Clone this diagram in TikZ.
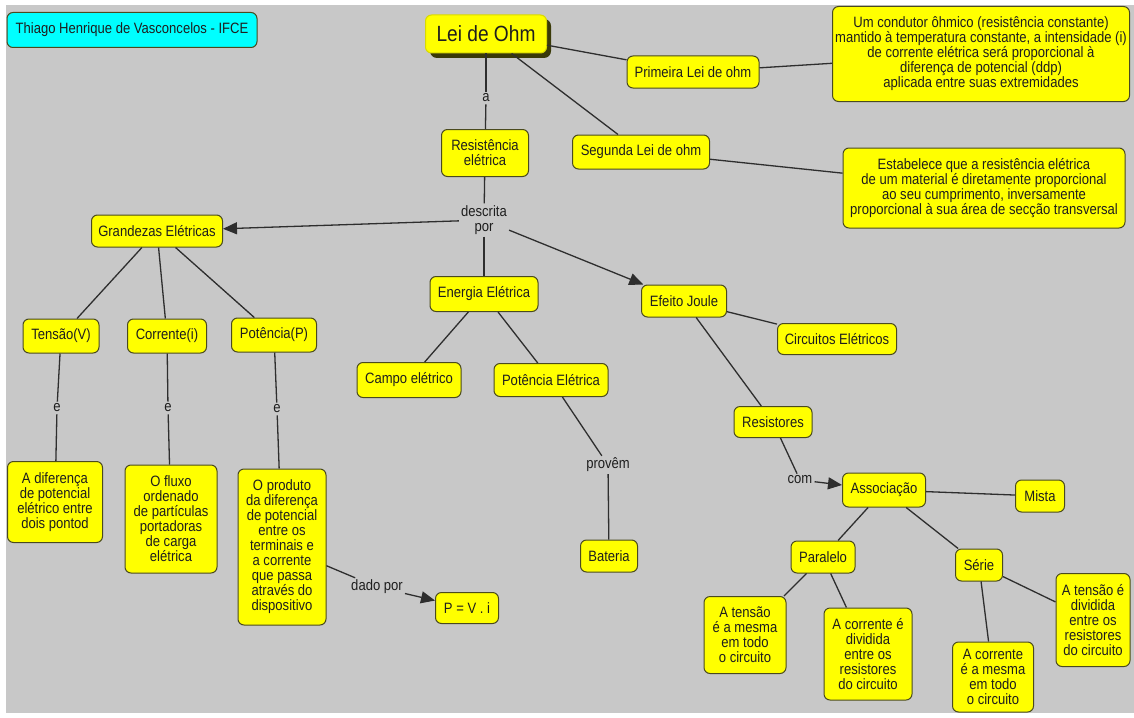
\documentclass[tikz,border=0pt]{standalone}
\usepackage{fontspec}
\setmainfont{Liberation Sans}[FakeStretch=0.87]
\usetikzlibrary{arrows.meta}
\definecolor{bg}{HTML}{C8C8C8}
\definecolor{boxy}{HTML}{FFFF00}
\definecolor{boxc}{HTML}{00FFFF}
\definecolor{bordc}{HTML}{4A4A1E}
\definecolor{txtc}{HTML}{1E1E1E}
\definecolor{linec}{HTML}{2E2E2E}
\definecolor{shadc}{HTML}{3A3A08}
\tikzset{
  concept/.style={draw=bordc, fill=boxy, rounded corners=6pt, line width=1pt,
    font=\fontsize{15}{15}\selectfont, text=txtc, align=center, inner xsep=3pt, inner ysep=3pt},
  lbl/.style={font=\fontsize{15}{15}\selectfont, text=txtc, align=center, inner sep=2pt},
  conn/.style={draw=linec, line width=1.3pt},
  arr/.style={conn, -{Triangle[length=14pt,width=12pt]}},
}
\begin{document}
\begin{tikzpicture}[x=1pt,y=-1pt]
\useasboundingbox (0,0) rectangle (1134,717);
\fill[white] (0,0) rectangle (1134,717);
\fill[bg] (6,5) rectangle (1134,713);

% title / author
\node[concept, fill=boxc, minimum width=250pt, minimum height=35pt] (author) at (132,30) {Thiago Henrique de Vasconcelos - IFCE};

% main concept with shadow
\fill[shadc, rounded corners=7pt] (430,19) rectangle (551,58);
\node[concept, draw=boxy!70!olive, minimum width=121pt, minimum height=38pt, font=\fontsize{22}{24}\selectfont] (ohm) at (486,34) {Lei de Ohm};

\node[concept, minimum width=132pt, minimum height=32pt] (prim) at (693,72) {Primeira Lei de ohm};
\node[concept, minimum width=297pt, minimum height=95pt, inner xsep=0pt] (cond) at (981,54) {Um condutor ôhmico (resistência constante)\\mantido à temperatura constante, a intensidade (i)\\de corrente elétrica será proporcional à\\diferença de potencial (ddp)\\aplicada entre suas extremidades};
\node[concept, minimum width=87pt, minimum height=47pt] (resist) at (485,153) {Resistência\\elétrica};
\node[concept, minimum width=137pt, minimum height=34pt] (seg) at (641,152) {Segunda Lei de ohm};
\node[concept, minimum width=282pt, minimum height=80pt] (estab) at (984,188) {Estabelece que a resistência elétrica\\de um material é diretamente proporcional\\ao seu cumprimento, inversamente\\proporcional à sua área de secção transversal};

\node[lbl] (la) at (486,98) {a};
\node[lbl] (descr) at (484,220) {descrita\\por};

\node[concept, minimum width=131pt, minimum height=32pt] (grand) at (157,231) {Grandezas Elétricas};
\node[concept, minimum width=108pt, minimum height=35pt] (energ) at (484,294) {Energia Elétrica};
\node[concept, minimum width=85pt, minimum height=32pt] (joule) at (684,301) {Efeito Joule};
\node[concept, minimum width=119pt, minimum height=31pt] (circ) at (837,339) {Circuitos Elétricos};

\node[concept, minimum width=76pt, minimum height=34pt] (tensao) at (61,336) {Tensão(V)};
\node[concept, minimum width=79pt, minimum height=34pt] (corr) at (167,336) {Corrente(i)};
\node[concept, minimum width=85pt, minimum height=34pt] (pot) at (274,335) {Potência(P)};

\node[concept, minimum width=104pt, minimum height=35pt] (campo) at (409,380) {Campo elétrico};
\node[concept, minimum width=114pt, minimum height=33pt] (potel) at (551,380) {Potência Elétrica};
\node[lbl] (provem) at (608,465) {provêm};
\node[concept, minimum width=57pt, minimum height=32pt] (bat) at (609,556) {Bateria};

\node[concept, minimum width=78pt, minimum height=31pt] (resistores) at (773,422) {Resistores};
\node[lbl] (com) at (800,480) {com};
\node[concept, minimum width=83pt, minimum height=34pt] (assoc) at (884,490) {Associação};
\node[concept, minimum width=49pt, minimum height=32pt] (mista) at (1040,496) {Mista};
\node[concept, minimum width=64pt, minimum height=32pt] (paral) at (823,557) {Paralelo};
\node[concept, minimum width=47pt, minimum height=32pt] (serie) at (979,565) {Série};

\node[concept, minimum width=82pt, minimum height=77pt] (ptens) at (745,635) {A tensão\\é a mesma\\em todo\\o circuito};
\node[concept, minimum width=88pt, minimum height=92pt] (pcorr) at (868,654) {A corrente é\\dividida\\entre os\\resistores\\do circuito};
\node[concept, minimum width=81pt, minimum height=70pt] (scorr) at (993,677) {A corrente\\é a mesma\\em todo\\o circuito};
\node[concept, minimum width=74pt, minimum height=93pt] (stens) at (1093,620) {A tensão é\\dividida\\entre os\\resistores\\do circuito};

\node[lbl] (e1) at (57,408) {e};
\node[lbl] (e2) at (168,408) {e};
\node[lbl] (e3) at (277,409) {e};

\node[concept, minimum width=95pt, minimum height=81pt] (dif) at (55,502) {A diferença\\de potencial\\elétrico entre\\dois pontod};
\node[concept, minimum width=92pt, minimum height=108pt] (fluxo) at (171,519) {O fluxo\\ordenado\\de partículas\\portadoras\\de carga\\elétrica};
\node[concept, minimum width=88pt, minimum height=156pt] (prod) at (282,547) {O produto\\da diferença\\de potencial\\entre os\\terminais e\\a corrente\\que passa\\através do\\dispositivo};
\node[lbl] (dado) at (377,587) {dado por};
\node[concept, minimum width=63pt, minimum height=31pt] (pvi) at (467,608) {P = V . i};

% connectors
\draw[conn] (ohm) -- (la);
\draw[conn] (la) -- (resist);
\draw[conn] (ohm) -- (prim);
\draw[conn] (prim) -- (cond);
\draw[conn] (ohm) -- (seg);
\draw[conn] (seg) -- (estab);
\draw[conn] (resist) -- (descr);
\draw[arr] (descr) -- (grand);
\draw[conn] (descr) -- (energ);
\draw[arr] (descr) -- (joule);
\draw[conn] (grand) -- (tensao);
\draw[conn] (grand) -- (corr);
\draw[conn] (grand) -- (pot);
\draw[conn] (tensao) -- (e1);
\draw[conn] (e1) -- (dif);
\draw[conn] (corr) -- (e2);
\draw[conn] (e2) -- (fluxo);
\draw[conn] (pot) -- (e3);
\draw[conn] (e3) -- (prod);
\draw[conn] (prod) -- (dado);
\draw[arr] (dado) -- (pvi);
\draw[conn] (energ) -- (campo);
\draw[conn] (energ) -- (potel);
\draw[conn] (potel) -- (provem);
\draw[conn] (provem) -- (bat);
\draw[conn] (joule) -- (circ);
\draw[conn] (joule) -- (resistores);
\draw[conn] (resistores) -- (com);
\draw[arr] (com) -- (assoc);
\draw[conn] (assoc) -- (mista);
\draw[conn] (assoc) -- (paral);
\draw[conn] (assoc) -- (serie);
\draw[conn] (paral) -- (ptens);
\draw[conn] (paral) -- (pcorr);
\draw[conn] (serie) -- (scorr);
\draw[conn] (serie) -- (stens);
\end{tikzpicture}
\end{document}
